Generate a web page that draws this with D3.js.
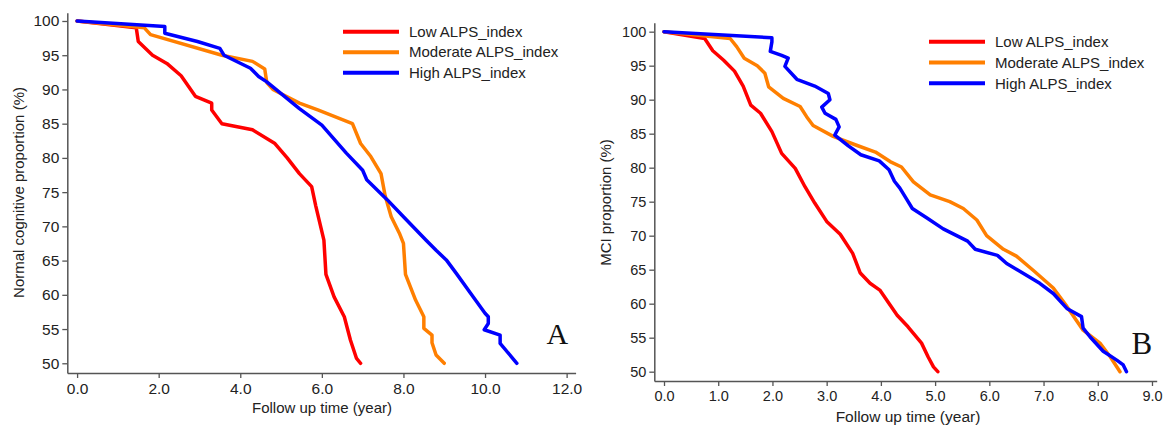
<!DOCTYPE html>
<html lang="en">
<head>
<meta charset="UTF-8">
<title>ALPS_index curves</title>
<script src="https://d3js.org/d3.v7.min.js"></script>
<style>
  body { margin: 0; background: #fff; }
  svg { display: block; font-family: "Liberation Sans", Arial, sans-serif; }
</style>
</head>
<body>
<svg id="chart"></svg>
<script>
const width = 1163;
const height = 427;

const seriesNames = ["Low ALPS_index", "Moderate ALPS_index", "High ALPS_index"];
const seriesColors = ["#ff0000", "#ff7f00", "#0000ff"];

const yTicks = [50, 55, 60, 65, 70, 75, 80, 85, 90, 95, 100];
const xTicksA = [0, 2, 4, 6, 8, 10, 12];
const xTicksB = [0, 1, 2, 3, 4, 5, 6, 7, 8, 9];

// panel A: normal cognitive proportion (%), [year, %]
const normalLow = [[0,100],[1.45,99],[1.5,97],[1.85,95],[2.2,93.8],[2.55,92],[2.9,89],[3.3,88],[3.3,87],[3.55,85],
  [4.3,84.1],[4.85,82.1],[5.15,80],[5.45,77.7],[5.75,75.8],[5.85,73],[6.05,68],[6.1,63],[6.3,59.7],[6.55,56.8],
  [6.7,53.4],[6.85,50.7],[6.95,50]];
const normalModerate = [[0,100],[1.65,99],[1.8,98],[3.55,95],[4.3,94.1],[4.6,93],[4.65,91],[4.8,90],[5.45,88],[5.9,87],
  [6.75,85],[6.95,82.1],[7.2,80.2],[7.45,77.7],[7.55,74.5],[7.7,71.4],[7.9,69],[8.0,67.5],[8.05,63],[8.3,59.2],
  [8.5,56.8],[8.5,55.1],[8.7,54.1],[8.7,53],[8.8,51.2],[9.0,50]];
const normalHigh = [[0,100],[2.15,99.2],[2.15,98.2],[2.95,97],[3.5,96],[3.6,95],[4.25,93.1],[4.45,91.9],[4.65,91.1],
  [5.45,87.2],[6.0,84.8],[6.6,80.7],[7.0,78.2],[7.1,76.8],[7.6,73.9],[8.0,71.4],[8.55,68],[8.8,66.5],[9.05,65.1],
  [9.3,63.1],[9.65,60.2],[10.0,57.3],[10.08,56.8],[10.08,55.8],[9.98,54.9],[10.37,54.1],[10.37,52.9],[10.78,50]];

// panel B: MCI proportion (%), [year, %]
const mciLow = [[0,100],[0.75,99],[0.9,97.2],[1.1,95.8],[1.3,94.2],[1.46,92],[1.6,89.2],[1.78,88],[1.99,85.3],
  [2.17,82.1],[2.42,79.9],[2.6,77.2],[2.78,74.8],[3.0,72.1],[3.25,70.2],[3.48,67.4],[3.62,64.5],[3.8,63.0],
  [3.98,62],[4.17,59.8],[4.3,58.3],[4.5,56.6],[4.75,54.2],[4.87,52.2],[4.97,50.7],[5.05,50]];
const mciModerate = [[0,100],[1.22,99],[1.34,97.8],[1.48,96.1],[1.72,95],[1.86,93.9],[1.93,91.9],[2.2,90.2],[2.51,89],
  [2.63,87.5],[2.75,86.2],[3.12,84.6],[3.55,83.3],[3.9,82.3],[4.17,80.9],[4.38,80.1],[4.6,77.9],[4.91,76],[5.27,75],
  [5.52,74],[5.77,72.3],[5.95,70],[6.26,68],[6.5,67],[6.84,64.7],[7.18,62.3],[7.43,59.6],[7.73,56.1],[8.04,54.2],
  [8.23,52.2],[8.41,50]];
const mciHigh = [[0,100],[1.99,99.1],[1.99,98.5],[1.96,97.1],[2.17,96.5],[2.29,96.1],[2.23,94.9],[2.45,93],[2.78,92],
  [3.03,90.9],[3.06,90],[2.91,88.9],[2.97,88],[3.17,87.1],[3.23,86],[3.15,84.8],[3.4,83.2],[3.63,81.9],[3.97,81],
  [4.15,79.7],[4.25,78],[4.35,77],[4.48,75.3],[4.58,74],[4.85,72.6],[5.15,71],[5.6,69.2],[5.74,68],[6.15,67.1],
  [6.32,65.9],[6.6,64.6],[6.93,63],[7.18,61.5],[7.43,59.3],[7.7,58.1],[7.73,56.4],[7.86,55.1],[8.1,53],[8.35,51.7],
  [8.47,51],[8.53,50]];

const svg = d3.select("#chart").attr("width", width).attr("height", height);

function drawPanel(p) {
  const x = d3.scaleLinear().domain(p.xDomain).range(p.xRange);
  const y = d3.scaleLinear().domain(p.yDomain).range(p.yRange);
  const g = svg.append("g");

  const xAxis = g.append("g")
    .attr("transform", `translate(0,${p.yRange[0]})`)
    .call(d3.axisBottom(x).tickValues(p.xTicks).tickFormat(d3.format(".1f")).tickSize(5).tickSizeOuter(0).tickPadding(5));
  const yAxis = g.append("g")
    .attr("transform", `translate(${p.xRange[0]},0)`)
    .call(d3.axisLeft(y).tickValues(yTicks).tickFormat(d3.format("d")).tickSize(5).tickSizeOuter(0).tickPadding(3));

  [xAxis, yAxis].forEach(a => {
    a.select(".domain").attr("stroke", "#555").attr("stroke-width", 1.5);
    a.selectAll(".tick line").attr("stroke", "#555").attr("stroke-width", 1.3);
    a.selectAll(".tick text").attr("fill", "#222").style("font-size", p.tickSize)
      .style("font-family", "'Liberation Sans', Arial, sans-serif");
  });

  const line = d3.line().x(d => x(d[0])).y(d => y(d[1]));
  p.series.forEach((s, i) => {
    g.append("path")
      .datum(s)
      .attr("fill", "none")
      .attr("stroke", seriesColors[i])
      .attr("stroke-width", 3.5)
      .attr("stroke-linejoin", "round")
      .attr("stroke-linecap", "round")
      .attr("d", line);
  });

  // legend
  seriesNames.forEach((name, i) => {
    const ly = p.legend.y + i * p.legend.step;
    g.append("line")
      .attr("x1", p.legend.x).attr("x2", p.legend.x + 56)
      .attr("y1", ly).attr("y2", ly)
      .attr("stroke", seriesColors[i]).attr("stroke-width", 4);
    g.append("text")
      .attr("x", p.legend.x + 66).attr("y", ly).attr("dy", "0.35em")
      .attr("fill", "#222").style("font-size", "15px")
      .text(name);
  });

  g.append("text")
    .attr("x", p.xTitle[0]).attr("y", p.xTitle[1]).attr("dy", "0.35em")
    .attr("text-anchor", "middle").attr("fill", "#222").style("font-size", p.xTitleSize)
    .text("Follow up time (year)");

  g.append("text")
    .attr("transform", `translate(${p.yTitle[0]},${p.yTitle[1]}) rotate(-90)`)
    .attr("dy", "0.35em")
    .attr("text-anchor", "middle").attr("fill", "#222").style("font-size", "15px")
    .text(p.yLabel);

  g.append("text")
    .attr("x", p.tag[0]).attr("y", p.tag[1])
    .attr("fill", "#111").style("font-family", "'Liberation Serif', 'Times New Roman', serif")
    .style("font-size", p.tagSize)
    .text(p.tagText);
}

drawPanel({
  xDomain: [-0.24, 12.22], xRange: [67.3, 575.6],
  yDomain: [48.58, 101.21], yRange: [373, 12.7],
  xTicks: xTicksA, tickSize: "15.5px",
  series: [normalLow, normalModerate, normalHigh],
  legend: { x: 343, y: 31.7, step: 20.5 },
  xTitle: [322, 408], xTitleSize: "15px",
  yTitle: [18.5, 192.5], yLabel: "Normal cognitive proportion (%)",
  tag: [546.5, 343.5], tagSize: "30px", tagText: "A"
});

drawPanel({
  xDomain: [-0.179, 9.087], xRange: [654.3, 1156.7],
  yDomain: [48.63, 101.32], yRange: [381, 22.7],
  xTicks: xTicksB, tickSize: "14.5px",
  series: [mciLow, mciModerate, mciHigh],
  legend: { x: 929, y: 41.7, step: 20.8 },
  xTitle: [908, 417], xTitleSize: "15.5px",
  yTitle: [606, 202.5], yLabel: "MCI proportion (%)",
  tag: [1131.5, 354], tagSize: "31px", tagText: "B"
});
</script>
</body>
</html>
